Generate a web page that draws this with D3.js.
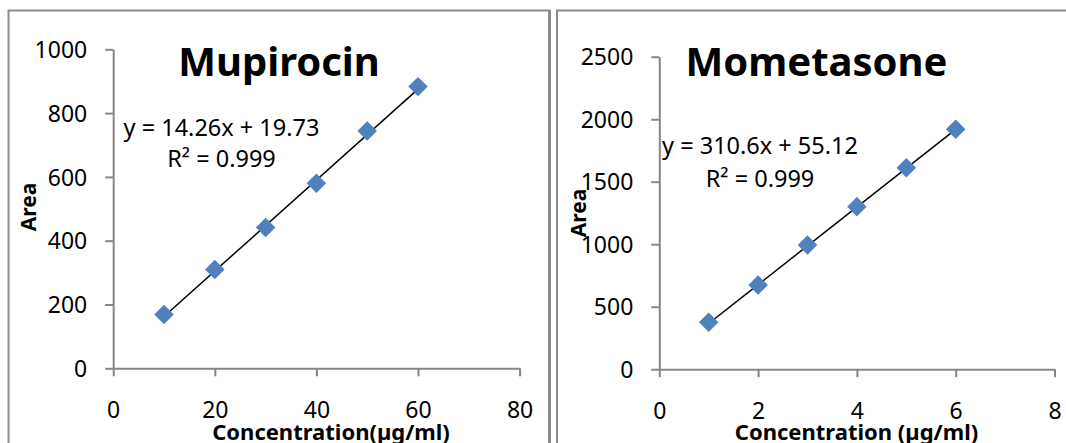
<!DOCTYPE html>
<html>
<head>
<meta charset="utf-8">
<script src="https://cdn.jsdelivr.net/npm/d3@7"></script>
<style>
  html, body { margin: 0; padding: 0; background: #fff; }
  svg { display: block; }
  text { font-family: "Noto Sans", "Open Sans", sans-serif; fill: #000; }
</style>
</head>
<body>
<svg id="chart" width="1066" height="443"></svg>
<script>
// ---------- Data ----------
const mupiTitle = "Mupirocin";
const mupiConc = [10, 20, 30, 40, 50, 60];
const mupiArea = [169, 310, 441, 580, 744, 883];
const mupiXTicks = [0, 20, 40, 60, 80];
const mupiYTicks = [0, 200, 400, 600, 800, 1000];
const mupiFit = [14.26, 19.73];           // slope, intercept
const mupiEquation = ["y = 14.26x + 19.73", "R\u00B2 = 0.999"];
const mupiXLabel = "Concentration(\u00B5g/ml)";

const mometTitle = "Mometasone";
const mometConc = [1, 2, 3, 4, 5, 6];
const mometArea = [375, 673, 993, 1300, 1612, 1919];
const mometXTicks = [0, 2, 4, 6, 8];
const mometYTicks = [0, 500, 1000, 1500, 2000, 2500];
const mometFit = [310.6, 55.12];
const mometEquation = ["y = 310.6x + 55.12", "R\u00B2 = 0.999"];
const mometXLabel = "Concentration (\u00B5g/ml)";

const yLabel = "Area";

// ---------- Layout ----------
const svg = d3.select("#chart");
const axisColor = "#868686";
const markerColor = "#4F81BD";

// frames
svg.append("rect").attr("x", 8.5).attr("y", 10.5).attr("width", 541).attr("height", 480)
  .attr("fill", "none").attr("stroke", "#8c8c8c").attr("stroke-width", 2);
svg.append("line").attr("x1", 549.5).attr("x2", 549.5).attr("y1", 10).attr("y2", 443)
  .attr("stroke", "#8c8c8c").attr("stroke-width", 3);
svg.append("rect").attr("x", 557).attr("y", 10.5).attr("width", 540).attr("height", 480)
  .attr("fill", "none").attr("stroke", "#8c8c8c").attr("stroke-width", 2);

const panels = [
  {
    title: mupiTitle, xs: mupiConc, ys: mupiArea, xTicks: mupiXTicks, yTicks: mupiYTicks,
    fit: mupiFit, eq: mupiEquation, xLabel: mupiXLabel,
    px: [113.2, 519.6], py: [368.3, 49.3],
    titleX: 279, eqX: 221.5, eqY: [136, 167.3], yLabX: 36, yLabY: 207, xLabX: 331
  },
  {
    title: mometTitle, xs: mometConc, ys: mometArea, xTicks: mometXTicks, yTicks: mometYTicks,
    fit: mometFit, eq: mometEquation, xLabel: mometXLabel,
    px: [659.3, 1054.5], py: [369.2, 56.7],
    titleX: 816.5, eqX: 760, eqY: [154.3, 186.7], yLabX: 586, yLabY: 213, xLabX: 856.5
  }
];

panels.forEach(p => {
  const xDom = d3.extent(p.xTicks), yDom = d3.extent(p.yTicks);
  const x = d3.scaleLinear().domain(xDom).range(p.px);
  const y = d3.scaleLinear().domain(yDom).range(p.py);
  const g = svg.append("g");

  // Y axis
  const ya = g.append("g").attr("transform", `translate(${p.px[0]},0)`)
    .call(d3.axisLeft(y).tickValues(p.yTicks).tickSize(8).tickSizeOuter(0).tickPadding(18)
      .tickFormat(d3.format("d")));
  // X axis
  const xa = g.append("g").attr("transform", `translate(0,${p.py[0]})`)
    .call(d3.axisBottom(x).tickValues(p.xTicks).tickSize(8).tickSizeOuter(0)
      .tickFormat(d3.format("d")));
  [ya, xa].forEach(a => {
    a.select(".domain").attr("stroke", axisColor).attr("stroke-width", 2);
    a.selectAll(".tick line").attr("stroke", axisColor).attr("stroke-width", 2);
    a.selectAll(".tick text").attr("font-family", "'Noto Sans', sans-serif")
      .attr("font-size", 23).attr("fill", "#000");
  });
  ya.selectAll(".tick text").attr("dy", "0.36em");
  xa.selectAll(".tick text").attr("y", 50).attr("dy", 0);

  // Trendline
  const [m, b] = p.fit;
  const x0 = d3.min(p.xs), x1 = d3.max(p.xs);
  g.append("line")
    .attr("x1", x(x0)).attr("y1", y(m * x0 + b))
    .attr("x2", x(x1)).attr("y2", y(m * x1 + b))
    .attr("stroke", "#000").attr("stroke-width", 1.5);

  // Markers (diamonds)
  const sym = d3.symbol().type(d3.symbolSquare).size(190);
  g.selectAll("path.pt").data(p.xs.map((v, i) => [v, p.ys[i]])).join("path")
    .attr("class", "pt")
    .attr("d", sym)
    .attr("transform", d => `translate(${x(d[0])},${y(d[1])}) rotate(45)`)
    .attr("fill", markerColor);

  // Title
  g.append("text").attr("x", p.titleX).attr("y", 76).attr("text-anchor", "middle")
    .attr("font-weight", "bold").attr("font-size", 40).text(p.title);

  // Equation
  p.eq.forEach((t, i) => {
    g.append("text").attr("x", p.eqX).attr("y", p.eqY[i]).attr("text-anchor", "middle")
      .attr("font-size", 23.5).text(t);
  });

  // Axis titles
  g.append("text").attr("transform", `translate(${p.yLabX},${p.yLabY}) rotate(-90)`)
    .attr("text-anchor", "middle").attr("font-weight", "bold").attr("font-size", 21).text(yLabel);
  g.append("text").attr("x", p.xLabX).attr("y", 440).attr("text-anchor", "middle")
    .attr("font-weight", "bold").attr("font-size", 22).text(p.xLabel);
});
</script>
</body>
</html>
